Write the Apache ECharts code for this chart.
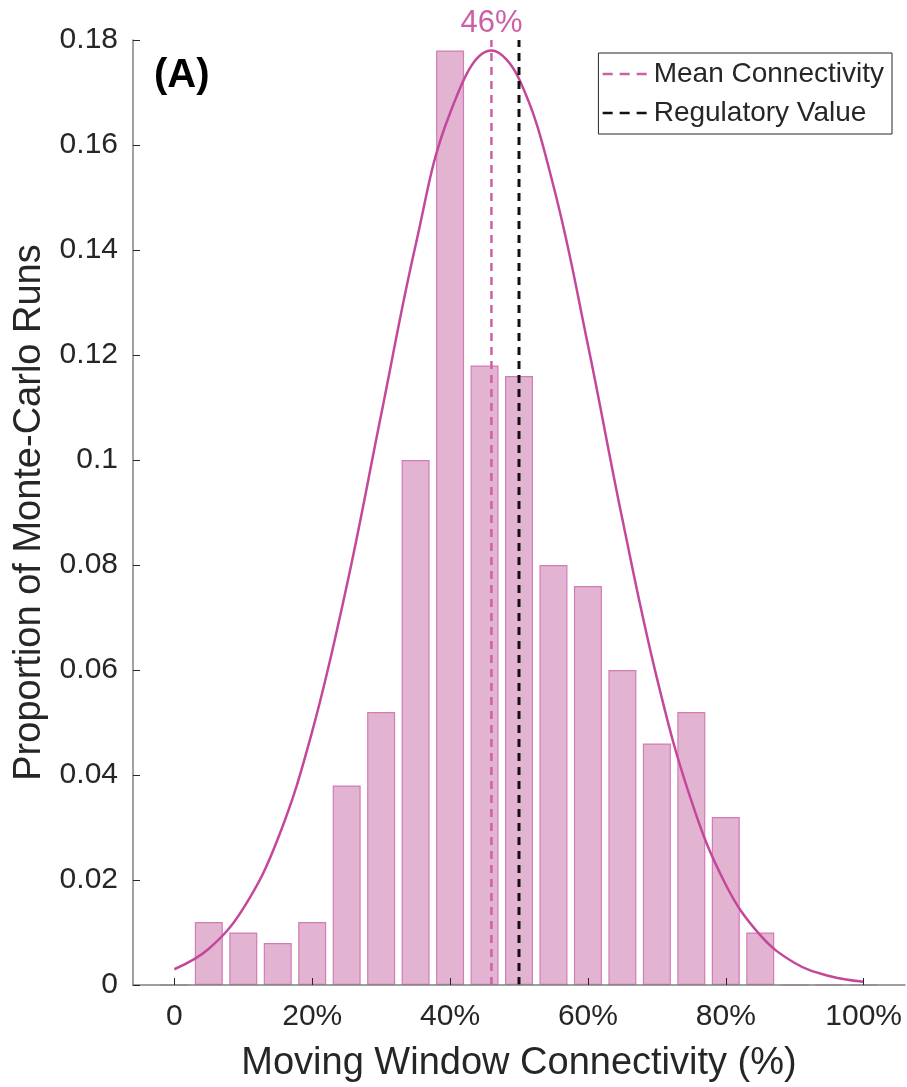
<!DOCTYPE html>
<html>
<head>
<meta charset="utf-8">
<script src="https://cdn.jsdelivr.net/npm/echarts@6/dist/echarts.min.js"></script>
<style>html,body{margin:0;padding:0;background:#fff}#c{width:907px;height:1087px}</style>
</head>
<body>
<div id="c"></div>
<script>
// Histogram bins (% connectivity) and proportions
const binCenters = [0, 5, 10, 15, 20, 25, 30, 35, 40, 45, 50, 55, 60, 65, 70, 75, 80, 85, 90, 95, 100];
const proportions = [0, 0.012, 0.010, 0.008, 0.012, 0.038, 0.052, 0.100, 0.178, 0.118, 0.116, 0.080, 0.076, 0.060, 0.046, 0.052, 0.032, 0.010, 0, 0, 0];
// Fitted curve
const curveX = [0, 5, 10, 15, 20, 25, 30, 35, 40, 46, 50, 55, 60, 65, 70, 75, 80, 85, 90, 95, 100];
const curveY = [0.0030, 0.0069, 0.0146, 0.0278, 0.0483, 0.0760, 0.1086, 0.1409, 0.1661, 0.178, 0.1726, 0.1522, 0.1219, 0.0887, 0.0585, 0.0351, 0.0191, 0.0095, 0.0042, 0.0017, 0.0006];
const meanValue = 46;
const regulatoryValue = 50;
const xTicks = [0, 20, 40, 60, 80, 100];
const yMax = 0.18;

const FONT = "'Liberation Sans', Arial, Helvetica, sans-serif";
const PINK = '#c4489a';
const MEAN_PINK = '#cc5fa6';
const chart = echarts.init(document.getElementById('c'), null, {renderer: 'canvas'});
chart.setOption({
  animation: false,
  backgroundColor: '#fff',
  textStyle: {fontFamily: FONT},
  grid: {left: 133, right: 2, top: 40, bottom: 102, containLabel: false, outerBoundsMode: 'none'},
  legend: {
    orient: 'vertical', right: 15, top: 53,
    data: ['Mean Connectivity', 'Regulatory Value'],
    itemWidth: 50, itemHeight: 14, itemGap: 11,
    padding: [7, 8, 7, 3],
    borderColor: '#262626', borderWidth: 1, backgroundColor: '#fff',
    itemStyle: {opacity: 0},
    lineStyle: {type: [10, 7], width: 2.5},
    textStyle: {fontSize: 28, color: '#262626', fontFamily: FONT, padding: [0, 0, 0, -4]}
  },
  xAxis: {
    type: 'value', min: -6, max: 106, z: 5,
    name: 'Moving Window Connectivity (%)', nameLocation: 'middle', nameGap: 60,
    nameTextStyle: {fontSize: 38, color: '#262626', fontFamily: FONT},
    axisLine: {onZero: false, lineStyle: {color: '#808080', width: 1.5}},
    axisTick: {inside: true, length: 7, lineStyle: {color: '#262626'}, customValues: xTicks},
    axisLabel: {customValues: xTicks, fontSize: 30, color: '#262626', margin: 17,
      formatter: v => v === 0 ? '0' : v + '%'},
    splitLine: {show: false}
  },
  yAxis: {
    type: 'value', min: 0, max: yMax, interval: 0.02, z: 5,
    name: 'Proportion of Monte-Carlo Runs', nameLocation: 'middle', nameGap: 64,
    nameTextStyle: {fontSize: 38, color: '#262626', fontFamily: FONT},
    axisLine: {show: true, onZero: false, lineStyle: {color: '#808080', width: 1.5}},
    axisTick: {show: true, inside: true, length: 7, lineStyle: {color: '#262626'}},
    axisLabel: {fontSize: 30, color: '#262626', margin: 15},
    splitLine: {show: false}
  },
  graphic: [{
    type: 'text', left: 154, top: 56, z: 10,
    style: {text: '(A)', fontSize: 40, fontWeight: 'bold', fill: '#000', fontFamily: FONT}
  }],
  series: [
    {
      type: 'bar', name: 'hist', barWidth: 28,
      data: binCenters.map((x, i) => [x, proportions[i]]),
      itemStyle: {color: '#e3b4d2', borderColor: '#d27cb5', borderWidth: 1.2},
      z: 1
    },
    {
      type: 'line', name: 'fit', smooth: 0.4, symbol: 'none',
      data: curveX.map((x, i) => [x, curveY[i]]),
      lineStyle: {color: PINK, width: 2.5}, z: 3
    },
    {
      type: 'line', name: 'Mean Connectivity', symbol: 'circle', symbolSize: 0, showSymbol: true,
      data: [[meanValue, 0], [meanValue, yMax]],
      lineStyle: {color: MEAN_PINK, width: 2.5, type: [8, 6]},
      itemStyle: {color: MEAN_PINK}, z: 4,
      markPoint: {
        symbol: 'circle', symbolSize: 0,
        data: [{coord: [meanValue, yMax], value: meanValue}],
        label: {show: true, position: 'top', distance: 1, formatter: meanValue + '%', fontSize: 31, color: MEAN_PINK, fontFamily: FONT}
      }
    },
    {
      type: 'line', name: 'Regulatory Value', symbol: 'none',
      data: [[regulatoryValue, 0], [regulatoryValue, yMax]],
      lineStyle: {color: '#111', width: 3, type: [8, 6]},
      itemStyle: {color: '#111'}, z: 4
    }
  ]
});
</script>
</body>
</html>
